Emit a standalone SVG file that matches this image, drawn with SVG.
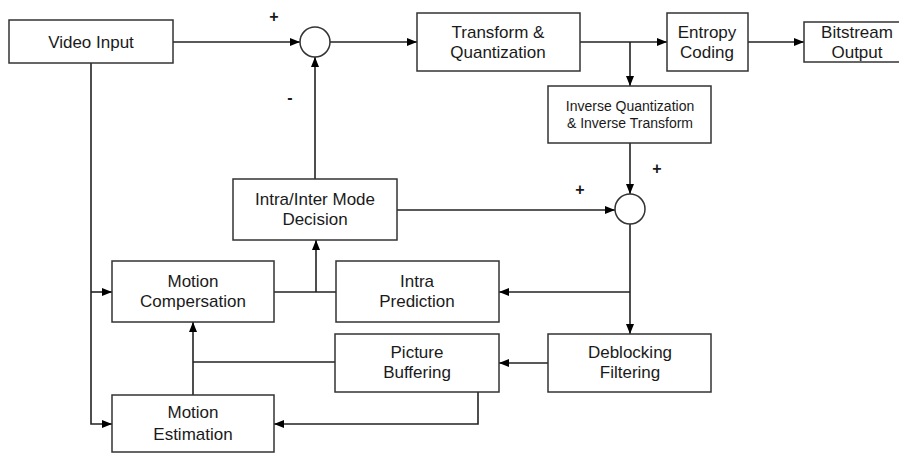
<svg xmlns="http://www.w3.org/2000/svg" width="899" height="453" viewBox="0 0 899 453">
  <style>
    .box { fill: #ffffff; stroke: #333333; stroke-width: 1.5; }
    .sum { fill: #ffffff; stroke: #333333; stroke-width: 1.5; }
    .wire { fill: none; stroke: #222222; stroke-width: 1.6; }
    .arr { marker-end: url(#head); }
    text { font-family: "Liberation Sans", Arial, sans-serif; font-size: 17px; fill: #1a1a1a; text-anchor: middle; }
    .small { font-size: 14px; }
    .sign { font-size: 16px; font-weight: bold; }
  </style>
  <defs>
    <marker id="head" markerWidth="10" markerHeight="8" refX="10" refY="4" orient="auto" markerUnits="userSpaceOnUse">
      <path d="M0,0 L10,4 L0,8 Z" fill="#000000"/>
    </marker>
  </defs>

  <!-- connectors -->
  <g id="connectors">
    <path class="wire arr" d="M173,42 H300"/>
    <path class="wire arr" d="M330,42 H417"/>
    <path class="wire arr" d="M580,42 H667"/>
    <path class="wire arr" d="M630,42 V86"/>
    <path class="wire arr" d="M748,42 H804"/>
    <path class="wire arr" d="M630,143 V194"/>
    <path class="wire arr" d="M397,210 H615"/>
    <path class="wire arr" d="M315,179 V57"/>
    <path class="wire" d="M630,224 V292"/>
    <path class="wire arr" d="M630,292 H499"/>
    <path class="wire arr" d="M630,292 V334"/>
    <path class="wire" d="M274,292 H336"/>
    <path class="wire arr" d="M316,292 V240"/>
    <path class="wire arr" d="M548,363 H499"/>
    <path class="wire" d="M335,362 H193"/>
    <path class="wire" d="M193,395 V362"/>
    <path class="wire arr" d="M193,362 V322"/>
    <path class="wire arr" d="M478,392 V424 H274"/>
    <path class="wire arr" d="M91,63 V424 H112"/>
    <path class="wire arr" d="M91,292 H112"/>
  </g>

  <g id="video-input">
    <rect class="box" x="9" y="20" width="164" height="43"/>
    <text x="91" y="48">Video Input</text>
  </g>

  <g id="sum-residual">
    <circle class="sum" cx="315" cy="42" r="15"/>
    <text class="sign" x="274" y="22">+</text>
    <text class="sign" x="290" y="103">-</text>
  </g>

  <g id="transform-quant">
    <rect class="box" x="417" y="13" width="163" height="58"/>
    <text x="498" y="38">Transform &amp;</text>
    <text x="498" y="58">Quantization</text>
  </g>

  <g id="entropy-coding">
    <rect class="box" x="667" y="13" width="81" height="58"/>
    <text x="707" y="38">Entropy</text>
    <text x="707" y="58">Coding</text>
  </g>

  <g id="bitstream-output">
    <rect class="box" x="804" y="22" width="96" height="40"/>
    <text x="857" y="38">Bitstream</text>
    <text x="857" y="58">Output</text>
  </g>

  <g id="inverse-quant-transform">
    <rect class="box" x="548" y="86" width="163" height="57"/>
    <text class="small" x="630" y="111">Inverse Quantization</text>
    <text class="small" x="630" y="128">&amp; Inverse Transform</text>
  </g>

  <g id="sum-reconstruct">
    <circle class="sum" cx="630" cy="209" r="15"/>
    <text class="sign" x="657" y="174">+</text>
    <text class="sign" x="580" y="195">+</text>
  </g>

  <g id="mode-decision">
    <rect class="box" x="233" y="179" width="164" height="61"/>
    <text x="315" y="205">Intra/Inter Mode</text>
    <text x="315" y="225">Decision</text>
  </g>

  <g id="motion-compensation">
    <rect class="box" x="112" y="261" width="162" height="61"/>
    <text x="193" y="287">Motion</text>
    <text x="193" y="307">Compersation</text>
  </g>

  <g id="intra-prediction">
    <rect class="box" x="336" y="261" width="163" height="61"/>
    <text x="417" y="287">Intra</text>
    <text x="417" y="307">Prediction</text>
  </g>

  <g id="deblocking-filtering">
    <rect class="box" x="548" y="334" width="163" height="58"/>
    <text x="630" y="358">Deblocking</text>
    <text x="630" y="378">Filtering</text>
  </g>

  <g id="picture-buffering">
    <rect class="box" x="335" y="334" width="164" height="58"/>
    <text x="417" y="358">Picture</text>
    <text x="417" y="378">Buffering</text>
  </g>

  <g id="motion-estimation">
    <rect class="box" x="112" y="395" width="162" height="57"/>
    <text x="193" y="418">Motion</text>
    <text x="193" y="440">Estimation</text>
  </g>
</svg>
